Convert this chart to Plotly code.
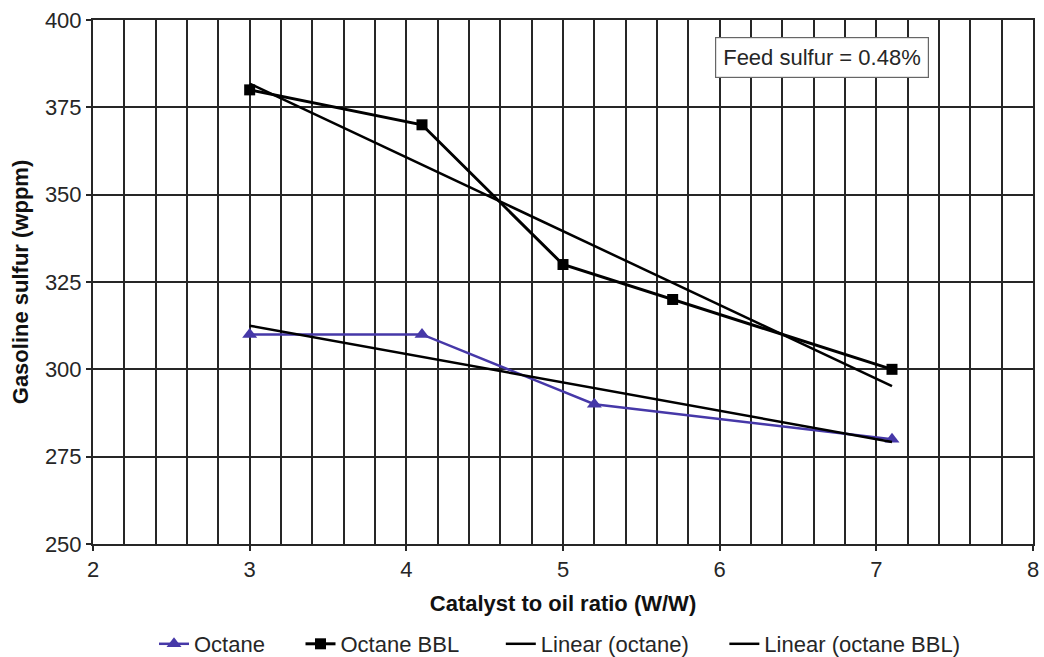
import plotly.graph_objects as go

# Data
octane_x = [3.0, 4.1, 5.2, 7.1]
octane_y = [310, 310, 290, 280]
bbl_x = [3.0, 4.1, 5.0, 5.7, 7.1]
bbl_y = [380, 370, 330, 320, 300]
lin_octane_x = [3.0, 7.1]
lin_octane_y = [312.5, 279.2]
lin_bbl_x = [3.0, 7.1]
lin_bbl_y = [381.8, 295.2]
series_names = ["Octane", "Octane BBL", "Linear (octane)", "Linear (octane BBL)"]

FONT = "Liberation Sans, Arial, sans-serif"
BLUE = "#4638a8"
GRID = "#262626"
TXT = "#262626"

L, R, T, B = 93, 1033, 20, 544
W, H = 1044, 657
PW, PH = R - L, B - T
NB = "\u00a0"
pad = [NB * 5, NB * 6, NB * 5, ""]

fig = go.Figure()
fig.add_trace(go.Scatter(x=octane_x, y=octane_y, mode="lines+markers", name=series_names[0] + pad[0],
                         line=dict(color=BLUE, width=2.5),
                         marker=dict(symbol="triangle-up", size=13, color=BLUE)))
fig.add_trace(go.Scatter(x=bbl_x, y=bbl_y, mode="lines+markers", name=series_names[1] + pad[1],
                         line=dict(color="black", width=3),
                         marker=dict(symbol="square", size=11, color="black")))
fig.add_trace(go.Scatter(x=lin_octane_x, y=lin_octane_y, mode="lines", name=series_names[2] + pad[2],
                         line=dict(color="black", width=2.5)))
fig.add_trace(go.Scatter(x=lin_bbl_x, y=lin_bbl_y, mode="lines", name=series_names[3] + pad[3],
                         line=dict(color="black", width=2.5)))

fig.update_layout(
    width=W, height=H,
    margin=dict(l=L, r=W - R, t=T, b=H - B),
    paper_bgcolor="white", plot_bgcolor="white",
    font=dict(family=FONT, size=22, color=TXT),
    showlegend=True,
    legend=dict(orientation="h", xref="container", x=560 / W, xanchor="center",
                yref="container", y=(H - 644) / H, yanchor="middle",
                font=dict(size=22, color=TXT), traceorder="normal",
                bgcolor="rgba(0,0,0,0)"),
    annotations=[dict(text="Feed sulfur = 0.48%", xref="paper", yref="paper",
                      x=(822 - L) / PW, y=1 - (58 - T) / PH, xanchor="center", yanchor="middle",
                      showarrow=False, font=dict(size=22, color=TXT),
                      bgcolor="white", bordercolor="#666", borderwidth=1.2, borderpad=7)],
)
fig.update_xaxes(range=[2, 8], dtick=1, tick0=2, showgrid=True, gridcolor=GRID, gridwidth=2,
                 minor=dict(dtick=0.2, tick0=2, showgrid=True, gridcolor=GRID, gridwidth=2),
                 showline=True, linecolor=GRID, linewidth=2, mirror=True,
                 ticks="outside", ticklen=5, tickcolor=GRID, tickwidth=2, zeroline=False,
                 automargin=False, ticklabelstandoff=0,
                 title=dict(text="<b>Catalyst to oil ratio (W/W)</b>", font=dict(size=22, color="#111"), standoff=14),
                 tickfont=dict(size=22))
fig.update_yaxes(range=[250, 400], dtick=25, showgrid=True, gridcolor=GRID, gridwidth=2,
                 showline=True, linecolor=GRID, linewidth=2, mirror=True,
                 ticks="outside", ticklen=5, tickcolor=GRID, tickwidth=2, zeroline=False,
                 automargin=False,
                 title=dict(text="<b>Gasoline sulfur (wppm)</b>", font=dict(size=22, color="#111"), standoff=10),
                 tickfont=dict(size=22))

fig.write_html("out.html")
